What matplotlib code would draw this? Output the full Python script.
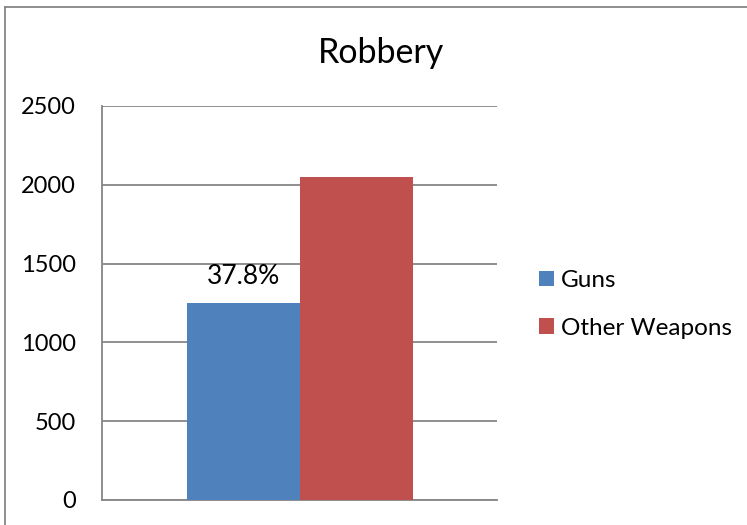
import matplotlib
matplotlib.use("Agg")
import matplotlib.pyplot as plt
from matplotlib.lines import Line2D

plt.rcParams['font.family'] = ['Lato', 'DejaVu Sans']

# data
series = ['Guns', 'Other Weapons']
values = [1247, 2052]
colors = ['#4f81bd', '#c0504d']
yticks = [0, 500, 1000, 1500, 2000, 2500]

W, H = 747, 525
fig = plt.figure(figsize=(W / 100, H / 100), dpi=100)

# axes area in pixels
left, right, top, bottom = 102, 497, 106, 500
ax = fig.add_axes([left / W, 1 - bottom / H, (right - left) / W, (bottom - top) / H])

xs = [0.358, 0.644]
width = 0.2855
for x, v, c, s in zip(xs, values, colors, series):
    ax.bar(x, v, width=width, color=c, label=s, zorder=3)

ax.set_xlim(0, 1)
ax.set_ylim(0, 2500)
ax.set_yticks(yticks)
ax.set_yticklabels([str(t) for t in yticks], fontsize=17)
ax.tick_params(axis='y', length=0, pad=19)
ax.set_xticks([])
ax.yaxis.grid(True, color='#868686', linewidth=1.3, zorder=0)
for side in ['top', 'right']:
    ax.spines[side].set_visible(False)
for side in ['left', 'bottom']:
    ax.spines[side].set_color('#868686')
    ax.spines[side].set_linewidth(1.3)

# percentage label
pct = values[0] / sum(values) * 100
ax.annotate(f'{pct:.1f}%', (xs[0], values[0]), xytext=(0, 14), textcoords='offset points',
            ha='center', va='baseline', fontsize=19)

fig.text(381 / W, 1 - 63 / H, 'Robbery', ha='center', va='baseline', fontsize=24.5)

ax.legend(loc='center left', bbox_to_anchor=(539 / W, 1 - 304.5 / H),
          bbox_transform=fig.transFigure, frameon=False, borderpad=0, borderaxespad=0,
          fontsize=17.5, handlelength=0.62, handleheight=0.62,
          handletextpad=0.3, labelspacing=1.1)

# outer chart border (only top and left edges fall inside the image)
fig.add_artist(Line2D([5 / W, 1], [1 - 7 / H, 1 - 7 / H], transform=fig.transFigure,
                      color='#868686', linewidth=1.3))
fig.add_artist(Line2D([5 / W, 5 / W], [0, 1 - 7 / H], transform=fig.transFigure,
                      color='#868686', linewidth=1.3))

fig.savefig('out.png', dpi=100)
